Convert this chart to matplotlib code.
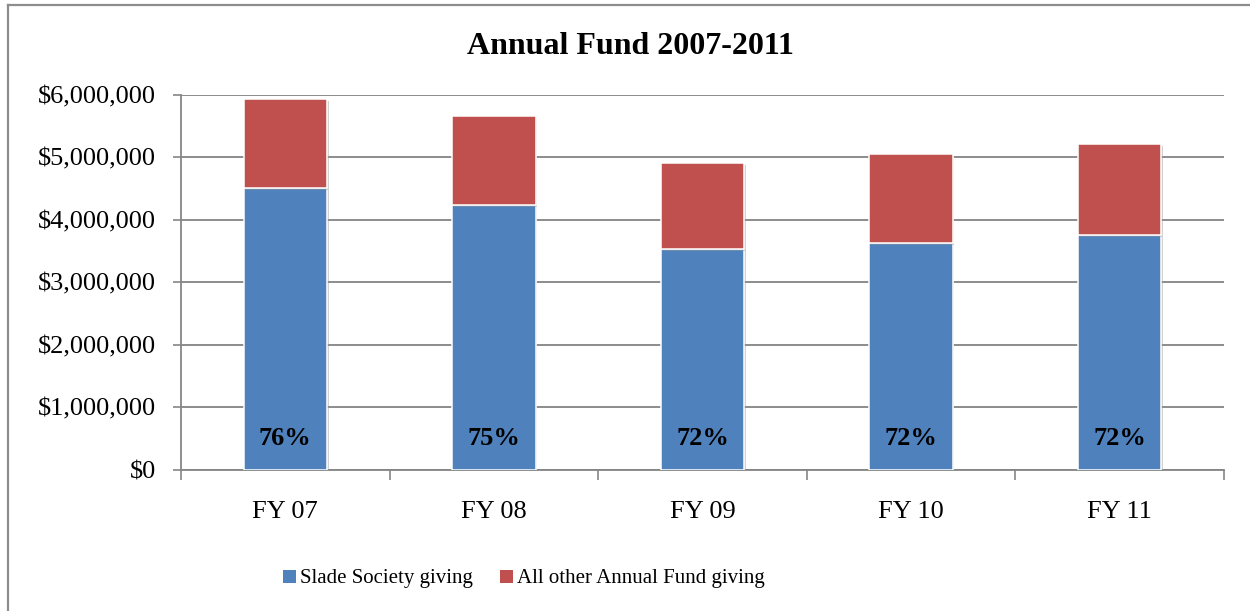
import matplotlib
matplotlib.use("Agg")
import matplotlib.pyplot as plt
import matplotlib.patheffects as pe
from matplotlib.lines import Line2D
from matplotlib.patches import Patch
from matplotlib.ticker import FuncFormatter, FixedLocator

# Annual Fund data, fiscal years 2007-2011
categories = ["FY 07", "FY 08", "FY 09", "FY 10", "FY 11"]
slade_society = [4.51e6, 4.24e6, 3.53e6, 3.63e6, 3.75e6]
all_other = [1.425e6, 1.43e6, 1.38e6, 1.42e6, 1.465e6]
series_names = ["Slade Society giving", "All other Annual Fund giving"]
y_ticks = [0, 1e6, 2e6, 3e6, 4e6, 5e6, 6e6]

BLUE = "#4F81BD"
RED = "#C0504D"
GRID = "#8C8C8C"

plt.rcParams["font.family"] = ["Liberation Serif", "DejaVu Serif"]

W, H = 1250, 611
fig = plt.figure(figsize=(W / 100, H / 100), dpi=100)
fig.patch.set_facecolor("white")

left, right = 181 / W, 1224 / W
bottom, top = (H - 469.5) / H, (H - 95) / H
ax = fig.add_axes([left, bottom, right - left, top - bottom])

x = list(range(len(categories)))
shadow = [pe.SimplePatchShadow(offset=(1.2, -1.2), shadow_rgbFace="#9a9a9a", alpha=0.45),
          pe.Normal()]

b1 = ax.bar(x, slade_society, width=0.4, color=BLUE, edgecolor="white",
            linewidth=1.1, zorder=3)
b2 = ax.bar(x, all_other, width=0.4, bottom=slade_society, color=RED,
            edgecolor="white", linewidth=1.1, zorder=3)
for p in list(b1) + list(b2):
    p.set_path_effects(shadow)

# share of Slade Society giving inside each bar
for xi, s, o in zip(x, slade_society, all_other):
    ax.text(xi, 0.5e6, f"{round(100 * s / (s + o)):.0f}%", ha="center",
            va="center", fontsize=19, fontweight="bold", color="black", zorder=5)

ax.set_xlim(-0.5, len(categories) - 0.5)
ax.set_ylim(0, 6e6)
ax.yaxis.set_major_locator(FixedLocator(y_ticks))
ax.yaxis.set_major_formatter(FuncFormatter(lambda v, _: f"${v:,.0f}"))
ax.grid(axis="y", color=GRID, linewidth=1.4, zorder=0)
ax.set_axisbelow(True)

ax.set_xticks(x)
ax.set_xticklabels(categories)
ax.set_xticks([i - 0.5 for i in range(len(categories) + 1)], minor=True)
ax.tick_params(axis="x", which="major", length=0, pad=23, labelsize=19)
ax.tick_params(axis="x", which="minor", length=7, width=1.2, color="#868686",
               direction="out")
ax.tick_params(axis="y", length=6, width=1.2, color="#868686", pad=12,
               labelsize=19, direction="out")

for side in ("top", "right"):
    ax.spines[side].set_visible(False)
for side in ("left", "bottom"):
    ax.spines[side].set_color("#868686")
    ax.spines[side].set_linewidth(1.3)

fig.text(630 / W, 1 - 46 / H, "Annual Fund 2007-2011", ha="center",
         va="center", fontsize=23, fontweight="bold")

handles = [Patch(facecolor=BLUE, edgecolor="none"),
           Patch(facecolor=RED, edgecolor="none")]
fig.legend(handles, series_names, loc="center", bbox_to_anchor=(524 / W, 1 - 579 / H),
           ncol=2, frameon=False, fontsize=15, handlelength=0.6,
           handleheight=0.6, handletextpad=0.2, columnspacing=1.3)

# chart area border (left and top edges)
fig.add_artist(Line2D([8 / W, 8 / W], [0, 1 - 5 / H], transform=fig.transFigure,
                      color="#8D8D8D", linewidth=1.6))
fig.add_artist(Line2D([8 / W, 1.0], [1 - 5 / H, 1 - 5 / H], transform=fig.transFigure,
                      color="#8D8D8D", linewidth=1.6))

fig.savefig("out.png", dpi=100, facecolor="white")
